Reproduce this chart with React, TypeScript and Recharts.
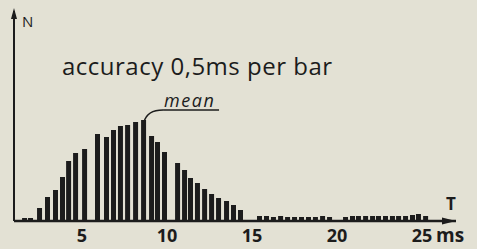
import React from 'react';
import { BarChart, Bar, XAxis, YAxis, ReferenceDot } from 'recharts';

// interval midpoints (ms)
const times = [
  1.65, 2.0, 2.53, 3.0, 3.47, 3.88, 4.24, 4.65, 5.18,
  5.94, 6.47, 6.88, 7.29, 7.71, 8.18, 8.65, 9.12, 9.47, 9.88,
  10.65, 11.06, 11.41, 11.82, 12.24, 12.65, 13.06, 13.53, 13.94, 14.35,
  15.47, 15.88, 16.29, 16.71, 17.12, 17.53, 17.94, 18.35, 18.76, 19.18, 19.59,
  20.53, 20.94, 21.29, 21.71, 22.12, 22.47, 22.88, 23.29, 23.65, 24.06, 24.47, 24.82, 25.24,
];
// counts N (arbitrary units)
const counts = [
  3, 3, 13, 24, 31, 44, 60, 68, 72,
  87, 84, 91, 95, 96, 99, 101, 85, 79, 69,
  58, 51, 43, 38, 32, 27, 23, 20, 16, 11,
  5, 5, 4, 5, 4, 4, 4, 4, 4, 5, 4,
  4, 5, 5, 5, 5, 5, 5, 5, 5, 5, 6, 7, 5,
];
const tickValues = [5, 10, 15, 20, 25];
const meanTime = 8.65;
const meanCount = 101;
const titleText = 'accuracy 0,5ms per bar';
const meanText = 'mean';
const unitText = 'ms';
const yLabel = 'N';
const xLabel = 'T';

const data = times.map((t, i) => ({ t, n: counts[i] }));

const INK = '#1c1c1c';
const PAPER = '#e3e1d4';
const FONT = "'Open Sans', 'DejaVu Sans', sans-serif";

const Tick = (props: any) => {
  const { x, y, payload } = props;
  return (
    <g>
      <text x={x} y={y + 21} textAnchor="middle" fontFamily={FONT} fontWeight={700} fontSize={18} fill={INK}>
        {payload.value}
      </text>
      {payload.value === 25 && (
        <text x={x + 14} y={y + 21} textAnchor="start" fontFamily={FONT} fontWeight={700} fontSize={19} fill={INK}>
          {unitText}
        </text>
      )}
    </g>
  );
};

const MeanMark = (p: any) => {
  const { cx, cy } = p;
  return (
    <g>
      <path d={`M${cx + 19},${cy - 10} Q${cx + 3},${cy - 10} ${cx},${cy + 2}`} stroke={INK} strokeWidth={1.5} fill="none" />
      <line x1={cx + 19} y1={cy - 10} x2={cx + 75} y2={cy - 10} stroke={INK} strokeWidth={1.5} />
      <text x={cx + 20} y={cy - 13} fontFamily={FONT} fontStyle="italic" fontSize={18} letterSpacing={1.5} fill={INK}>
        {meanText}
      </text>
    </g>
  );
};

const ArrowRight = (p: any) => {
  const { cx, cy } = p;
  return <polygon points={`${cx - 14},${cy - 3.5} ${cx},${cy} ${cx - 14},${cy + 3.5}`} fill={INK} />;
};

const ArrowUp = (p: any) => {
  const { cx, cy } = p;
  return <polygon points={`${cx - 3},${cy + 8} ${cx},${cy - 3} ${cx + 3},${cy + 8}`} fill={INK} />;
};

export default function App() {
  return (
    <div style={{ position: 'absolute', left: 0, top: 0, width: 477, height: 249, background: PAPER, overflow: 'hidden' }}>
      <BarChart width={477} height={249} data={data} margin={{ top: 11, right: 21, bottom: 0, left: 0 }} barCategoryGap={0}>
        <XAxis
          dataKey="t"
          type="number"
          domain={[1, 27]}
          ticks={tickValues}
          allowDataOverflow
          axisLine={{ stroke: INK, strokeWidth: 2.5 }}
          tickLine={false}
          tickSize={0}
          tickMargin={0}
          height={28}
          tick={<Tick />}
          interval={0}
        />
        <YAxis
          type="number"
          domain={[0, 210]}
          allowDataOverflow
          width={14}
          tick={false}
          tickLine={false}
          axisLine={{ stroke: INK, strokeWidth: 2 }}
        />
        <Bar dataKey="n" fill={INK} barSize={5} isAnimationActive={false} />
        <ReferenceDot x={meanTime} y={meanCount} r={0} ifOverflow="visible" shape={<MeanMark />} />
        <ReferenceDot x={27} y={0} r={0} ifOverflow="visible" shape={<ArrowRight />} />
        <ReferenceDot x={1} y={210} r={0} ifOverflow="visible" shape={<ArrowUp />} />
      </BarChart>
      <svg width={477} height={249} style={{ position: 'absolute', left: 0, top: 0, pointerEvents: 'none' }}>
        <text x={62} y={75} fontFamily={FONT} fontSize={24} letterSpacing={0.5} fill={INK}>{titleText}</text>
        <text x={22} y={27} fontFamily={FONT} fontSize={15} fill={INK}>{yLabel}</text>
        <text x={446} y={210} fontFamily={FONT} fontWeight={700} fontSize={17} fill={INK}>{xLabel}</text>
      </svg>
    </div>
  );
}
